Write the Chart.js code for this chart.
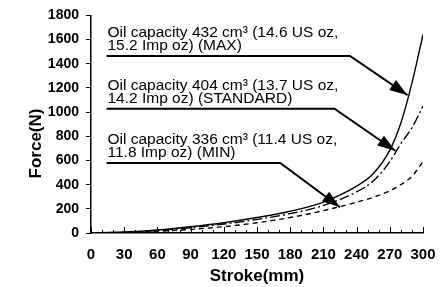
<!DOCTYPE html>
<html>
<head>
<meta charset="utf-8">
<script src="https://cdn.jsdelivr.net/npm/chart.js@4/dist/chart.umd.min.js"></script>
<style>
  body { margin: 0; background: #fff; }
  #wrap { width: 447px; height: 287px; }
</style>
</head>
<body>
<div id="wrap"><canvas id="grafico"></canvas></div>
<script>
// stroke (mm) and force (N)
const strokeMm = [0, 30, 60, 90, 120, 150, 180, 210, 240, 255, 270, 280, 290, 300];
const forceMax = [0, 8, 25, 52, 85, 128, 180, 256, 388, 490, 685, 910, 1240, 1640];
const forceStd = [0, 6, 20, 44, 74, 112, 160, 228, 340, 430, 590, 740, 870, 1050];
const forceMin = [0, 4, 14, 30, 52, 85, 128, 185, 255, 295, 350, 400, 470, 590];

const xTicks = [0, 30, 60, 90, 120, 150, 180, 210, 240, 270, 300];
const yTicks = [0, 200, 400, 600, 800, 1000, 1200, 1400, 1600, 1800];

// call-outs: two text lines, leader level, knee and arrow tip (data units)
const noteText = [
  ['Oil capacity 432 cm³ (14.6 US oz,', '15.2 Imp oz) (MAX)'],
  ['Oil capacity 404 cm³ (13.7 US oz,', '14.2 Imp oz) (STANDARD)'],
  ['Oil capacity 336 cm³ (11.4 US oz,', '11.8 Imp oz) (MIN)']
];
const noteStart = [14, 14, 14];
const noteLevel = [1465, 1028, 580];
const noteKnee = [234, 220, 171];
const noteTipX = [286, 275, 225];
const noteTipY = [1140, 680, 213];

const pts = ys => strokeMm.map((x, i) => ({ x: x, y: ys[i] }));

const extras = {
  id: 'extras',
  afterDraw(chart) {
    const ctx = chart.ctx, sx = chart.scales.x, sy = chart.scales.y;
    ctx.save();
    ctx.strokeStyle = '#000';
    ctx.fillStyle = '#000';
    // x axis ticks pointing up, major every 30, minor every 10
    ctx.lineWidth = 1;
    for (let v = 0; v <= 300; v += 10) {
      const px = Math.round(sx.getPixelForValue(v)) + 0.5;
      const h = v % 30 === 0 ? 6 : 3;
      ctx.beginPath();
      ctx.moveTo(px, sy.bottom);
      ctx.lineTo(px, sy.bottom - h);
      ctx.stroke();
    }
    // y title
    ctx.font = 'bold 17px "Liberation Sans", Arial, sans-serif';
    ctx.textAlign = 'center';
    ctx.textBaseline = 'middle';
    ctx.translate(36, 143.5);
    ctx.rotate(-Math.PI / 2);
    ctx.fillText('Force(N)', 0, 0);
    ctx.setTransform(1, 0, 0, 1, 0, 0);
    // call-outs
    ctx.font = '15.5px "Liberation Sans", Arial, sans-serif';
    ctx.textAlign = 'left';
    ctx.textBaseline = 'alphabetic';
    noteText.forEach((lines, i) => {
      const x0 = sx.getPixelForValue(noteStart[i]);
      const y0 = sy.getPixelForValue(noteLevel[i]);
      const xk = sx.getPixelForValue(noteKnee[i]);
      const xt = sx.getPixelForValue(noteTipX[i]);
      const yt = sy.getPixelForValue(noteTipY[i]);
      ctx.fillText(lines[0], x0 + 1, y0 - 19);
      ctx.fillText(lines[1], x0 + 1, y0 - 6);
      ctx.lineWidth = 2;
      ctx.beginPath();
      ctx.moveTo(x0, y0);
      ctx.lineTo(xk, y0);
      ctx.lineTo(xt, yt);
      ctx.stroke();
      const a = Math.atan2(yt - y0, xt - xk);
      const len = 18, half = 6;
      ctx.beginPath();
      ctx.moveTo(xt, yt);
      ctx.lineTo(xt - len * Math.cos(a) + half * Math.sin(a), yt - len * Math.sin(a) - half * Math.cos(a));
      ctx.lineTo(xt - len * Math.cos(a) - half * Math.sin(a), yt - len * Math.sin(a) + half * Math.cos(a));
      ctx.closePath();
      ctx.fill();
    });
    ctx.restore();
  }
};

new Chart(document.getElementById('grafico').getContext('2d'), {
  type: 'line',
  data: {
    datasets: [{
      label: 'MAX',
      data: pts(forceMax),
      borderColor: '#000',
      borderWidth: 1.4,
      pointRadius: 0,
      cubicInterpolationMode: 'monotone'
    }, {
      label: 'STANDARD',
      data: pts(forceStd),
      borderColor: '#000',
      borderWidth: 1.4,
      borderDash: [10, 3, 2, 3],
      pointRadius: 0,
      cubicInterpolationMode: 'monotone'
    }, {
      label: 'MIN',
      data: pts(forceMin),
      borderColor: '#000',
      borderWidth: 1.4,
      borderDash: [5, 4],
      pointRadius: 0,
      cubicInterpolationMode: 'monotone'
    }]
  },
  options: {
    responsive: true,
    maintainAspectRatio: false,
    animation: false,
    layout: { padding: { top: 13, right: 24, bottom: 0, left: 0 } },
    plugins: {
      legend: { display: false },
      tooltip: { enabled: false }
    },
    scales: {
      x: {
        type: 'linear',
        min: 0,
        max: 300,
        afterFit: s => { s.height = 54; },
        afterBuildTicks: s => { s.ticks = xTicks.map(v => ({ value: v })); },
        ticks: {
          color: '#000',
          padding: 5,
          maxRotation: 0,
          autoSkip: false,
          callback: v => String(v),
          font: { family: '"Liberation Sans", Arial, sans-serif', size: 15, weight: 'bold' }
        },
        grid: { display: false },
        border: { color: '#000', width: 1.5 },
        title: {
          display: true,
          text: 'Stroke(mm)',
          color: '#000',
          padding: 0,
          font: { family: '"Liberation Sans", Arial, sans-serif', size: 17, weight: 'bold' }
        }
      },
      y: {
        min: 0,
        max: 1800,
        afterFit: s => { s.width = 91; },
        afterBuildTicks: s => { s.ticks = yTicks.map(v => ({ value: v })); },
        ticks: {
          color: '#000',
          padding: 7,
          autoSkip: false,
          callback: v => String(v),
          font: { family: '"Liberation Sans", Arial, sans-serif', size: 14, weight: 'bold' }
        },
        grid: { drawOnChartArea: false, drawTicks: true, tickLength: 5, color: '#000', lineWidth: 1 },
        border: { color: '#000', width: 1.5 }
      }
    }
  },
  plugins: [extras]
});
</script>
</body>
</html>
